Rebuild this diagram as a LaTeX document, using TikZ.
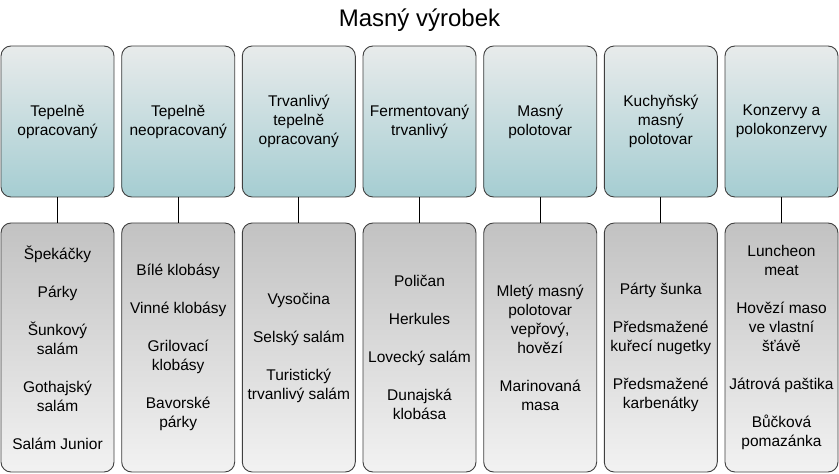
\documentclass[tikz,border=0pt]{standalone}
\usepackage{fontspec}
\setmainfont{Liberation Sans}
\usepackage{tikz}
\usetikzlibrary{shapes,positioning}
\definecolor{boxline}{HTML}{404040}
\definecolor{tealtop}{HTML}{E8EBEB}
\definecolor{tealbot}{HTML}{A5CDD2}
\definecolor{graytop}{HTML}{C2C2C2}
\definecolor{graybot}{HTML}{F2F2F2}
\tikzset{
    group/.style={draw=boxline, line width=0.9pt, rounded corners=10pt, top color=tealtop, bottom color=tealbot,
        minimum width=113pt, minimum height=151pt, inner sep=0pt, align=center, font=\fontsize{15.5}{19}\selectfont},
    items/.style={group, top color=graytop, bottom color=graybot, minimum height=249pt},
    link/.style={draw=black, line width=0.8pt}
}
\begin{document}
\begin{tikzpicture}[x=1pt, y=1pt]
    \fill[white] (0,0) rectangle (839,474);
    \useasboundingbox (0,0) rectangle (839,474);
    \node[anchor=base, font=\fontsize{24}{28}\selectfont] (title) at (419.5,447) {Masný výrobek};
    \node[group] (top1) at (57.5,352.5) {Tepelně\\opracovaný};
    \node[group] (top2) at (178.2,352.5) {Tepelně\\neopracovaný};
    \node[group] (top3) at (298.8,352.5) {Trvanlivý\\tepelně\\opracovaný};
    \node[group] (top4) at (419.5,352.5) {Fermentovaný\\trvanlivý};
    \node[group] (top5) at (540.2,352.5) {Masný\\polotovar};
    \node[group] (top6) at (660.8,352.5) {Kuchyňský\\masný\\polotovar};
    \node[group] (top7) at (781.5,352.5) {Konzervy a\\polokonzervy};
    \node[items] (bot1) at (57.5,126.5) {Špekáčky\\[19pt]Párky\\[19pt]Šunkový\\salám\\[19pt]Gothajský\\salám\\[19pt]Salám Junior};
    \node[items] (bot2) at (178.2,126.5) {Bílé klobásy\\[19pt]Vinné klobásy\\[19pt]Grilovací\\klobásy\\[19pt]Bavorské\\párky};
    \node[items] (bot3) at (298.8,126.5) {Vysočina\\[19pt]Selský salám\\[19pt]Turistický\\trvanlivý salám};
    \node[items] (bot4) at (419.5,126.5) {Poličan\\[19pt]Herkules\\[19pt]Lovecký salám\\[19pt]Dunajská\\klobása};
    \node[items] (bot5) at (540.2,126.5) {Mletý masný\\polotovar\\vepřový,\\hovězí\\[19pt]Marinovaná\\masa};
    \node[items] (bot6) at (660.8,126.5) {Párty šunka\\[19pt]Předsmažené\\kuřecí nugetky\\[19pt]Předsmažené\\karbenátky};
    \node[items] (bot7) at (781.5,126.5) {Luncheon\\meat\\[19pt]Hovězí maso\\ve vlastní\\šťávě\\[19pt]Játrová paštika\\[19pt]Bůčková\\pomazánka};
    \foreach \i in {1,...,7}
        \draw[link] (top\i) -- (bot\i);
\end{tikzpicture}
\end{document}
